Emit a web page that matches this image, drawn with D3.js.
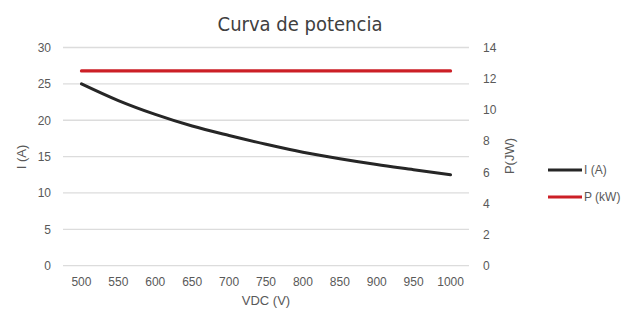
<!DOCTYPE html>
<html>
<head>
<meta charset="utf-8">
<script src="https://cdn.jsdelivr.net/npm/d3@7"></script>
<style>
  body { margin: 0; background: #fff; }
  svg text { font-family: "Liberation Sans", Arial, sans-serif; }
</style>
</head>
<body>
<div id="chart"></div>
<script>
// data
const voltages = [500, 550, 600, 650, 700, 750, 800, 850, 900, 950, 1000];
const current = [25, 22.7, 20.8, 19.2, 17.9, 16.7, 15.6, 14.7, 13.9, 13.2, 12.5];
const power = [12.5, 12.5, 12.5, 12.5, 12.5, 12.5, 12.5, 12.5, 12.5, 12.5, 12.5];
const leftTicks = [0, 5, 10, 15, 20, 25, 30];
const rightTicks = [0, 2, 4, 6, 8, 10, 12, 14];
const seriesNames = ["I (A)", "P (kW)"];
const seriesColors = ["#262626", "#cc1f26"];

const W = 632, H = 318;
const plot = { left: 63, right: 469, top: 47.5, bottom: 265.7 };

const svg = d3.select("#chart").append("svg")
    .attr("width", W)
    .attr("height", H);

const x = d3.scaleBand().domain(voltages).range([plot.left, plot.right]);
const yL = d3.scaleLinear().domain([0, 30]).range([plot.bottom, plot.top]);
const yR = d3.scaleLinear().domain([0, 14]).range([plot.bottom, plot.top]);

// title
svg.append("text")
    .attr("x", 300)
    .attr("y", 31)
    .attr("text-anchor", "middle")
    .attr("font-size", "20px")
    .attr("fill", "#404040")
    .style("font-family", "'DejaVu Sans Condensed', 'DejaVu Sans', sans-serif")
    .text("Curva de potencia");

// gridlines
svg.append("g")
    .selectAll("line")
    .data(leftTicks)
    .enter().append("line")
    .attr("x1", plot.left)
    .attr("x2", plot.right)
    .attr("y1", d => yL(d))
    .attr("y2", d => yL(d))
    .attr("stroke", "#dcdcdc")
    .attr("stroke-width", 1.3);

// left axis
const gl = svg.append("g")
    .attr("transform", "translate(" + (plot.left - 4) + ",0)")
    .call(d3.axisLeft(yL).tickValues(leftTicks).tickSize(0).tickPadding(8));
gl.select(".domain").remove();
gl.selectAll("text").attr("font-size", "12px").attr("fill", "#595959");

// right axis
const gr = svg.append("g")
    .attr("transform", "translate(" + (plot.right + 6) + ",0)")
    .call(d3.axisRight(yR).tickValues(rightTicks).tickSize(0).tickPadding(8));
gr.select(".domain").remove();
gr.selectAll("text").attr("font-size", "12px").attr("fill", "#595959");

// bottom axis
const gb = svg.append("g")
    .attr("transform", "translate(0," + plot.bottom + ")")
    .call(d3.axisBottom(x).tickSize(0).tickPadding(12));
gb.select(".domain").remove();
gb.selectAll("text").attr("font-size", "12px").attr("fill", "#595959");

// axis titles
svg.append("text")
    .attr("x", (plot.left + plot.right) / 2)
    .attr("y", 305)
    .attr("text-anchor", "middle")
    .attr("font-size", "13px")
    .attr("fill", "#595959")
    .text("VDC (V)");

svg.append("text")
    .attr("transform", "translate(26,157) rotate(-90)")
    .attr("text-anchor", "middle")
    .attr("font-size", "13px")
    .attr("fill", "#595959")
    .text("I (A)");

svg.append("text")
    .attr("transform", "translate(514,156) rotate(-90)")
    .attr("text-anchor", "middle")
    .attr("font-size", "13px")
    .attr("fill", "#595959")
    .text("P(JW)");

const cx = d => x(d) + x.bandwidth() / 2;

const lineL = d3.line()
    .x((d, i) => cx(voltages[i]))
    .y(d => yL(d))
    .curve(d3.curveMonotoneX);
const lineR = d3.line()
    .x((d, i) => cx(voltages[i]))
    .y(d => yR(d));

svg.append("path")
    .datum(power)
    .attr("d", lineR)
    .attr("fill", "none")
    .attr("stroke", seriesColors[1])
    .attr("stroke-width", 3.2)
    .attr("stroke-linecap", "round");

svg.append("path")
    .datum(current)
    .attr("d", lineL)
    .attr("fill", "none")
    .attr("stroke", seriesColors[0])
    .attr("stroke-width", 3)
    .attr("stroke-linecap", "round");

// legend
const lg = svg.append("g")
    .selectAll("g")
    .data(seriesNames)
    .enter().append("g")
    .attr("transform", (d, i) => "translate(548," + (170 + i * 27) + ")");
lg.append("line")
    .attr("x1", 0).attr("x2", 34)
    .attr("stroke", (d, i) => seriesColors[i])
    .attr("stroke-width", 3);
lg.append("text")
    .attr("x", 36)
    .attr("dy", "0.35em")
    .attr("font-size", "12px")
    .attr("fill", "#595959")
    .text(d => d);
</script>
</body>
</html>
